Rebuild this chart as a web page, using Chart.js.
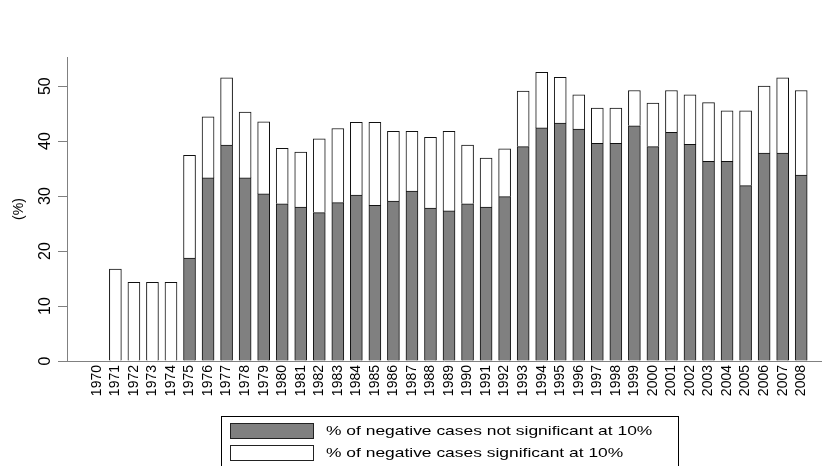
<!DOCTYPE html>
<html>
<head>
<meta charset="utf-8">
<script src="https://cdn.jsdelivr.net/npm/chart.js@4.4.1/dist/chart.umd.min.js"></script>
<style>
  html, body { margin: 0; padding: 0; background: #fff; }
  #wrap { width: 822px; height: 466px; }
</style>
</head>
<body>
<div id="wrap"><canvas id="chart" width="822" height="466"></canvas></div>
<script>
// years on the x axis
const years = ["1970", "1971", "1972", "1973", "1974", "1975", "1976", "1977", "1978", "1979",
    "1980", "1981", "1982", "1983", "1984", "1985", "1986", "1987", "1988", "1989",
    "1990", "1991", "1992", "1993", "1994", "1995", "1996", "1997", "1998", "1999",
    "2000", "2001", "2002", "2003", "2004", "2005", "2006", "2007", "2008"];

// % of negative cases not significant at 10% (grey, bottom part)
const notSignificant = [null, 0, 0, 0, 0, 18.7, 33.3, 39.3, 33.3, 30.4,
    28.6, 28.0, 27.0, 28.8, 30.2, 28.3, 29.1, 30.9, 27.8, 27.3,
    28.6, 28.0, 29.9, 39.0, 42.4, 43.3, 42.2, 39.6, 39.6, 42.8,
    39.0, 41.6, 39.4, 36.3, 36.3, 31.9, 37.8, 37.8, 33.8];

// % of negative cases significant at 10% (white, stacked on top)
const significant = [null, 16.7, 14.3, 14.3, 14.3, 18.7, 11.1, 12.2, 12.0, 13.1,
    10.1, 10.0, 13.4, 13.5, 13.2, 15.1, 12.7, 10.9, 12.9, 14.5,
    10.7, 8.9, 8.7, 10.1, 10.1, 8.3, 6.2, 6.4, 6.4, 6.4,
    7.9, 7.6, 9.0, 10.7, 9.2, 13.6, 12.2, 13.7, 15.4];

const yTicks = [0, 10, 20, 30, 40, 50];

const FONT = "'Liberation Sans', Arial, Helvetica, sans-serif";

// boxed legend with stacked rows, drawn below the axis
const boxLegend = {
    id: "boxLegend",
    afterDraw(chart, args, o) {
        const ctx = chart.ctx;
        ctx.save();
        ctx.strokeStyle = "#000";
        ctx.lineWidth = 1;
        ctx.strokeRect(o.x + 0.5, o.y + 0.5, o.w, o.h);
        chart.data.datasets.forEach((ds, i) => {
            const top = o.y + o.rowTop + i * o.rowGap;
            ctx.fillStyle = ds.backgroundColor;
            ctx.fillRect(o.x + o.swX, top, o.swW, o.swH);
            ctx.strokeStyle = "#222";
            ctx.strokeRect(o.x + o.swX + 0.5, top + 0.5, o.swW, o.swH);
            // text is stretched sideways like the original export
            ctx.save();
            ctx.translate(o.x + o.textX, top + o.swH / 2 + 1);
            ctx.scale(o.stretch, 1);
            ctx.fillStyle = "#000";
            ctx.font = o.font;
            ctx.textBaseline = "middle";
            ctx.fillText(ds.label, 0, 0);
            ctx.restore();
        });
        ctx.restore();
    }
};

const ctx = document.getElementById("chart").getContext("2d");

new Chart(ctx, {
    type: "bar",
    data: {
        datasets: [
            {
                label: "% of negative cases not significant at 10%",
                data: notSignificant.map((v, i) => ({ x: i, y: v })),
                backgroundColor: "#808080",
                borderColor: "#111",
                borderWidth: 1,
                barThickness: 12
            },
            {
                label: "% of negative cases significant at 10%",
                data: significant.map((v, i) => ({ x: i, y: v })),
                backgroundColor: "#ffffff",
                borderColor: "#111",
                borderWidth: 1,
                barThickness: 12
            }
        ]
    },
    options: {
        responsive: false,
        animation: false,
        layout: { padding: { top: 57, right: 0, left: 0, bottom: 0 } },
        plugins: {
            legend: { display: false },
            tooltip: { enabled: false },
            boxLegend: {
                x: 221, y: 416, w: 457, h: 60,
                swX: 9, swW: 83, swH: 15,
                rowTop: 7, rowGap: 22, textX: 105,
                stretch: 1.34,
                font: "13px " + FONT
            }
        },
        scales: {
            x: {
                type: "linear",
                stacked: true,
                offset: false,
                min: -1.61,
                max: 39.07,
                afterBuildTicks: (s) => { s.ticks = years.map((_, i) => ({ value: i })); },
                afterFit: (s) => { s.height = 105; },
                grid: { display: false, drawTicks: false, offset: false },
                border: { display: true, color: "#808080", width: 1 },
                ticks: {
                    autoSkip: false,
                    minRotation: 90,
                    maxRotation: 90,
                    padding: 4,
                    color: "#000",
                    font: { family: FONT, size: 14 },
                    callback: (v) => years[v]
                }
            },
            y: {
                stacked: true,
                min: 0,
                max: 55.3,
                afterBuildTicks: (s) => { s.ticks = yTicks.map((v) => ({ value: v })); },
                afterFit: (s) => { s.width = 67; },
                grid: { display: true, drawOnChartArea: false, drawTicks: true, tickLength: 9, color: "#808080" },
                border: { display: true, color: "#808080", width: 1 },
                title: {
                    display: true,
                    text: "(%)",
                    color: "#000",
                    padding: { top: 11, bottom: 0 },
                    font: { family: FONT, size: 14 }
                },
                ticks: {
                    minRotation: 90,
                    maxRotation: 90,
                    crossAlign: "center",
                    padding: 4,
                    color: "#000",
                    font: { family: FONT, size: 16 }
                }
            }
        }
    },
    plugins: [boxLegend]
});
</script>
</body>
</html>
